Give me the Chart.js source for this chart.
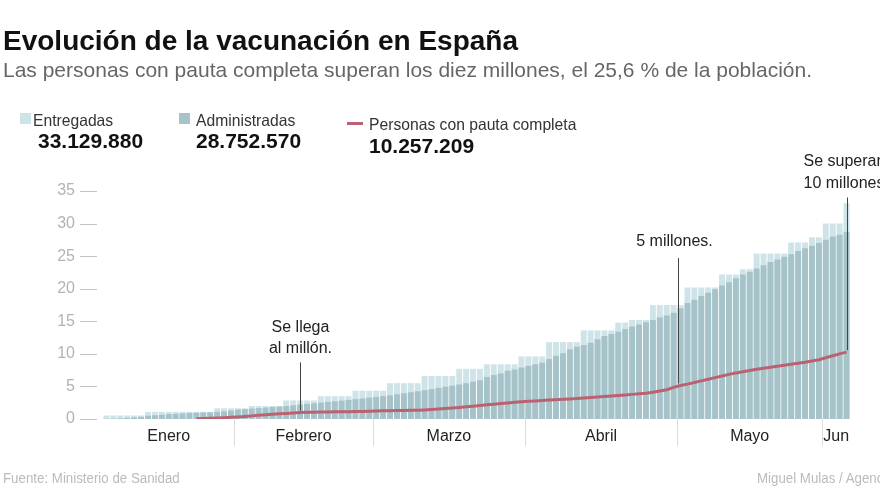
<!DOCTYPE html>
<html>
<head>
<meta charset="utf-8">
<script src="https://cdn.jsdelivr.net/npm/chart.js@4.4.1/dist/chart.umd.min.js"></script>
<style>
  body { margin: 0; width: 880px; height: 495px; overflow: hidden; background: #fff; font-family: 'Liberation Sans', Arial, sans-serif; }
  #wrap { position: absolute; left: 0; top: 0; width: 880px; height: 495px; }
  .t { position: absolute; white-space: nowrap; transform-origin: left top; }
  #titulo { left: 3px; top: 25px; font-size: 28px; font-weight: bold; color: #111; }
  #sub { left: 3px; top: 58px; font-size: 21px; color: #666; }
  .cuadro { position: absolute; width: 11px; height: 11px; }
  .leg { font-size: 16.5px; color: #333; transform: scaleX(0.95); }
  .num { font-size: 21px; font-weight: bold; color: #111; }
  .pie { font-size: 14px; color: #bbb; top: 470px; transform: scaleX(0.95); }
</style>
</head>
<body>
<div id="wrap">
  <canvas id="grafico" width="880" height="495"></canvas>
  <div class="t" id="titulo">Evolución de la vacunación en España</div>
  <div class="t" id="sub">Las personas con pauta completa superan los diez millones, el 25,6 % de la población.</div>

  <div class="cuadro" style="left:20px;top:113px;background:#cfe4e9"></div>
  <div class="t leg" style="left:33px;top:111px">Entregadas</div>
  <div class="t num" style="left:38px;top:129px">33.129.880</div>

  <div class="cuadro" style="left:179px;top:113px;background:#a6c3c9"></div>
  <div class="t leg" style="left:196px;top:111px">Administradas</div>
  <div class="t num" style="left:196px;top:129px">28.752.570</div>

  <div class="cuadro" style="left:347px;top:122px;width:16px;height:3px;background:#bb6272"></div>
  <div class="t leg" style="left:369px;top:115px">Personas con pauta completa</div>
  <div class="t num" style="left:369px;top:134px">10.257.209</div>

  <div class="t pie" style="left:3px">Fuente: Ministerio de Sanidad</div>
  <div class="t pie" style="left:757px">Miguel Mulas / Agencias</div>
</div>
<script>
// días con datos (laborables), formato d/m
var dias = [
  '4/1','5/1','7/1','8/1','11/1','12/1','13/1','14/1','15/1','18/1','19/1','20/1','21/1','22/1','25/1','26/1','27/1','28/1','29/1',
  '1/2','2/2','3/2','4/2','5/2','8/2','9/2','10/2','11/2','12/2','15/2','16/2','17/2','18/2','19/2','22/2','23/2','24/2','25/2','26/2',
  '1/3','2/3','3/3','4/3','5/3','8/3','9/3','10/3','11/3','12/3','15/3','16/3','17/3','18/3','22/3','23/3','24/3','25/3','26/3','29/3','30/3','31/3',
  '1/4','2/4','5/4','6/4','7/4','8/4','9/4','12/4','13/4','14/4','15/4','16/4','19/4','20/4','21/4','22/4','23/4','26/4','27/4','28/4','29/4','30/4',
  '3/5','4/5','5/5','6/5','7/5','10/5','11/5','12/5','13/5','14/5','17/5','18/5','19/5','20/5','21/5','24/5','25/5','26/5','27/5','28/5','31/5',
  '1/6','2/6','3/6','4/6'
];
var meses = ['Enero', 'Febrero', 'Marzo', 'Abril', 'Mayo', 'Jun'];

// millones de dosis
var entregadas = [
  0.55, 0.55, 0.55, 0.55, 0.55, 0.55, 1.1, 1.1, 1.1, 1.1, 1.1, 1.1, 1.1, 1.1, 1.1, 1.1, 1.65, 1.65, 1.65,
  1.65, 1.65, 2.0, 2.0, 2.0, 2.0, 2.0, 2.85, 2.85, 2.85, 2.85, 2.85, 3.5, 3.5, 3.5, 3.5, 3.5, 4.35, 4.35, 4.35,
  4.35, 4.35, 5.5, 5.5, 5.5, 5.5, 5.5, 6.6, 6.6, 6.6, 6.6, 6.6, 7.7, 7.7, 7.7, 7.7, 8.4, 8.4, 8.4, 8.4, 8.4, 9.6, 9.6,
  9.6, 9.6, 11.8, 11.8, 11.8, 11.8, 11.8, 13.6, 13.6, 13.6, 13.6, 13.6, 14.8, 14.8, 15.2, 15.2, 15.2, 17.5, 17.5, 17.5, 17.5,
  17.5, 20.2, 20.2, 20.2, 20.2, 20.2, 22.2, 22.2, 22.2, 23.0, 23.0, 25.4, 25.4, 25.4, 25.4, 25.4, 27.1, 27.1, 27.1, 27.9, 27.9,
  30.0, 30.0, 30.0, 33.13
];
var administradas = [
  0.03, 0.07, 0.12, 0.18, 0.25, 0.33, 0.5, 0.58, 0.66, 0.74, 0.8, 0.86, 0.92, 0.97, 1.0, 1.04, 1.1, 1.18, 1.3,
  1.45, 1.52, 1.6, 1.68, 1.76, 1.84, 1.92, 2.0, 2.1, 2.22, 2.32, 2.42, 2.52, 2.62, 2.72, 2.82, 2.93, 3.05, 3.16, 3.28,
  3.4, 3.52, 3.65, 3.8, 3.95, 4.1, 4.25, 4.42, 4.6, 4.78, 4.95, 5.12, 5.3, 5.5, 5.72, 5.95, 6.45, 6.75, 7.0, 7.4, 7.6, 7.9,
  8.15, 8.4, 8.65, 9.2, 9.7, 10.1, 10.7, 11.1, 11.35, 11.7, 12.25, 12.75, 13.05, 13.4, 13.8, 14.2, 14.5, 14.85, 15.2, 15.6, 15.9, 16.3,
  17.0, 17.8, 18.3, 18.9, 19.4, 19.9, 20.5, 21.0, 21.6, 22.2, 22.6, 23.1, 23.6, 24.1, 24.5, 24.9, 25.3, 25.8, 26.2, 26.6, 27.0,
  27.5, 28.0, 28.3, 28.75
];
// millones de personas
var pautaCompleta = [
  null, null, null, null, null, null, null, null, null, null, null, null, null, 0.03, 0.06, 0.1, 0.15, 0.2, 0.25,
  0.32, 0.4, 0.48, 0.56, 0.64, 0.72, 0.8, 0.86, 0.92, 0.98, 1.02, 1.05, 1.07, 1.09, 1.1, 1.12, 1.13, 1.15, 1.17, 1.19,
  1.22, 1.25, 1.27, 1.29, 1.31, 1.33, 1.36, 1.4, 1.46, 1.53, 1.6, 1.68, 1.77, 1.87, 1.97, 2.07, 2.17, 2.27, 2.37, 2.47, 2.56, 2.66,
  2.72, 2.78, 2.84, 2.9, 2.96, 3.02, 3.08, 3.15, 3.22, 3.3, 3.38, 3.46, 3.54, 3.62, 3.7, 3.78, 3.86, 3.95, 4.1, 4.3, 4.5, 4.85,
  5.15, 5.35, 5.6, 5.85, 6.1, 6.35, 6.6, 6.85, 7.05, 7.25, 7.45, 7.65, 7.8, 7.95, 8.1, 8.25, 8.4, 8.55, 8.7, 8.9, 9.1,
  9.4, 9.7, 10.0, 10.26
];
var ticksY = [0, 5, 10, 15, 20, 25, 30, 35];

// anotaciones: posición en el eje x (índice) y en el eje y (millones)
var notas = [
  { i: 28, lineas: ['Se llega', 'al millón.'], textoY: [14.1, 10.75], desde: 8.7, align: 'center', dx: 0 },
  { i: 82.7, lineas: ['5 millones.'], textoY: [27.2], desde: 24.7, align: 'center', dx: -4 },
  { i: 107, lineas: ['Se superan', '10 millones'], textoY: [39.5, 36.1], desde: 34, align: 'left', dx: -44 }
];

var FUENTE = "'Liberation Sans', Arial, sans-serif";

var extras = {
  id: 'extras',
  afterDatasetsDraw: function (chart) {
    var c = chart.ctx, x = chart.scales.x, y = chart.scales.y, area = chart.chartArea;
    c.save();
    // guiones del eje y
    c.strokeStyle = '#c4c4c4';
    c.lineWidth = 1;
    ticksY.forEach(function (v) {
      var py = Math.round(y.getPixelForValue(v)) + 0.5;
      c.beginPath(); c.moveTo(80, py); c.lineTo(97, py); c.stroke();
    });
    // separadores y nombres de meses
    var grupos = [];
    dias.forEach(function (d, i) {
      var m = parseInt(d.split('/')[1], 10) - 1;
      if (!grupos[m]) grupos[m] = { a: i, b: i };
      grupos[m].b = i;
    });
    c.font = '16px ' + FUENTE;
    c.fillStyle = '#222';
    c.textAlign = 'center';
    c.textBaseline = 'middle';
    grupos.forEach(function (g, m) {
      var cx = (x.getPixelForValue(g.a) + x.getPixelForValue(g.b)) / 2;
      c.fillText(meses[m], cx, area.bottom + 18);
      if (m > 0) {
        var sx = Math.round((x.getPixelForValue(g.a - 1) + x.getPixelForValue(g.a)) / 2) + 0.5;
        c.strokeStyle = '#dcdcdc';
        c.beginPath(); c.moveTo(sx, area.bottom); c.lineTo(sx, area.bottom + 27); c.stroke();
      }
    });
    // anotaciones
    c.font = '16px ' + FUENTE;
    c.fillStyle = '#222';
    c.strokeStyle = '#444';
    c.lineWidth = 1;
    notas.forEach(function (n) {
      var px = Math.round(x.getPixelForValue(n.i)) + 0.5;
      var base = pautaCompleta[Math.round(n.i)];
      c.beginPath();
      c.moveTo(px, y.getPixelForValue(n.desde));
      c.lineTo(px, y.getPixelForValue(base) - 2);
      c.stroke();
      c.textAlign = n.align;
      n.lineas.forEach(function (t, k) {
        c.fillText(t, px + n.dx, y.getPixelForValue(n.textoY[k]));
      });
    });
    c.restore();
  }
};

new Chart(document.getElementById('grafico'), {
  type: 'bar',
  data: {
    labels: dias,
    datasets: [
      { type: 'line', label: 'Personas con pauta completa', data: pautaCompleta, borderColor: '#bb6272', borderWidth: 3, pointRadius: 0, tension: 0, order: 0 },
      { label: 'Administradas', data: administradas, backgroundColor: '#a6c3c9', grouped: false, barPercentage: 0.86, categoryPercentage: 1, order: 1 },
      { label: 'Entregadas', data: entregadas, backgroundColor: '#cfe4e9', grouped: false, barPercentage: 0.86, categoryPercentage: 1, order: 2 }
    ]
  },
  options: {
    responsive: false,
    animation: false,
    layout: { padding: { top: 191, right: 30, bottom: 76, left: 0 } },
    plugins: { legend: { display: false }, tooltip: { enabled: false } },
    scales: {
      x: {
        grid: { display: false },
        border: { display: false },
        ticks: { display: false },
        afterFit: function (s) { s.height = 0; }
      },
      y: {
        min: 0,
        max: 35,
        grid: { display: false },
        border: { display: false },
        ticks: { stepSize: 5, padding: 20, color: '#b3b3b3', font: { family: FUENTE, size: 16 } },
        afterFit: function (s) { s.width = 103; }
      }
    }
  },
  plugins: [extras]
});
</script>
</body>
</html>
